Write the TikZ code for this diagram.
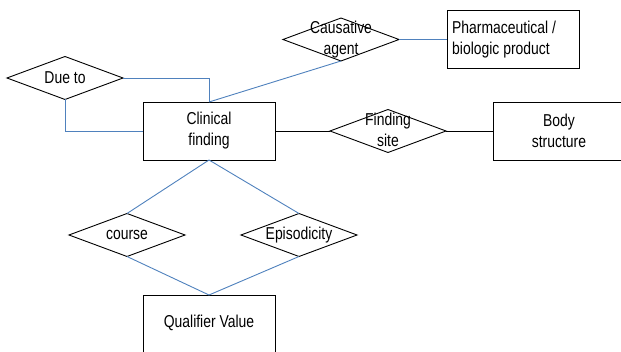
\documentclass[tikz,border=0pt]{standalone}
\usepackage{fontspec}
\setmainfont{Liberation Sans}
\usetikzlibrary{shapes.geometric}
\definecolor{relblue}{RGB}{79,129,189}
\begin{document}
\begin{tikzpicture}[x=1pt,y=-1pt,
  every node/.style={font=\fontsize{17.2}{21}\selectfont},
  entity/.style={draw=black,line width=0.9pt,minimum width=132pt,minimum height=58pt,inner sep=0pt,outer sep=0pt},
  relation/.style={draw=black,line width=0.9pt,shape=diamond,minimum width=116pt,minimum height=43pt,inner sep=0pt,outer sep=0pt},
  lbl/.style={align=center,inner sep=0pt,xscale=0.81},
  blueline/.style={draw=relblue,line width=0.9pt},
  blackline/.style={draw=black,line width=0.9pt}]
\useasboundingbox (0,0) rectangle (621,352);
\clip (0,0) rectangle (621,352);
% entities
\node[entity] (cf) at (209,131) {};
\node[entity] (ph) at (513,39.5) {};
\node[entity] (bs) at (559,131) {};
\node[entity] (qv) at (209,324) {};
% relations
\node[relation] (due) at (65,78) {};
\node[relation] (ca) at (341,39.5) {};
\node[relation] (fs) at (388,131) {};
\node[relation] (co) at (127,235) {};
\node[relation] (ep) at (299,235) {};
% connectors
\draw[blueline] (due.east) -| (cf.north);
\draw[blueline] (due.south) |- (cf.west);
\draw[blueline] (cf.north) -- (ca.south);
\draw[blueline] (ca.east) -- (ph.west);
\draw[blackline] (cf.east) -- (fs.west);
\draw[blackline] (fs.east) -- (bs.west);
\draw[blueline] (cf.south) -- (co.north);
\draw[blueline] (cf.south) -- (ep.north);
\draw[blueline] (co.south) -- (qv.north);
\draw[blueline] (ep.south) -- (qv.north);
% labels
\node[lbl] (tcf) at (cf) {Clinical\\finding};
\node[lbl,align=left,anchor=west] (tph) at (452,39.5) {Pharmaceutical /\\biologic product};
\node[lbl] (tbs) at (bs) {Body\\structure};
\node[lbl] (tqv) at (209,323) {Qualifier Value};
\node[lbl] (tdue) at (due) {Due to};
\node[lbl] (tca) at (ca) {Causative\\agent};
\node[lbl] (tfs) at (388,130) {Finding\\site};
\node[lbl] (tco) at (co) {course};
\node[lbl] (tep) at (ep) {Episodicity};
\end{tikzpicture}
\end{document}
